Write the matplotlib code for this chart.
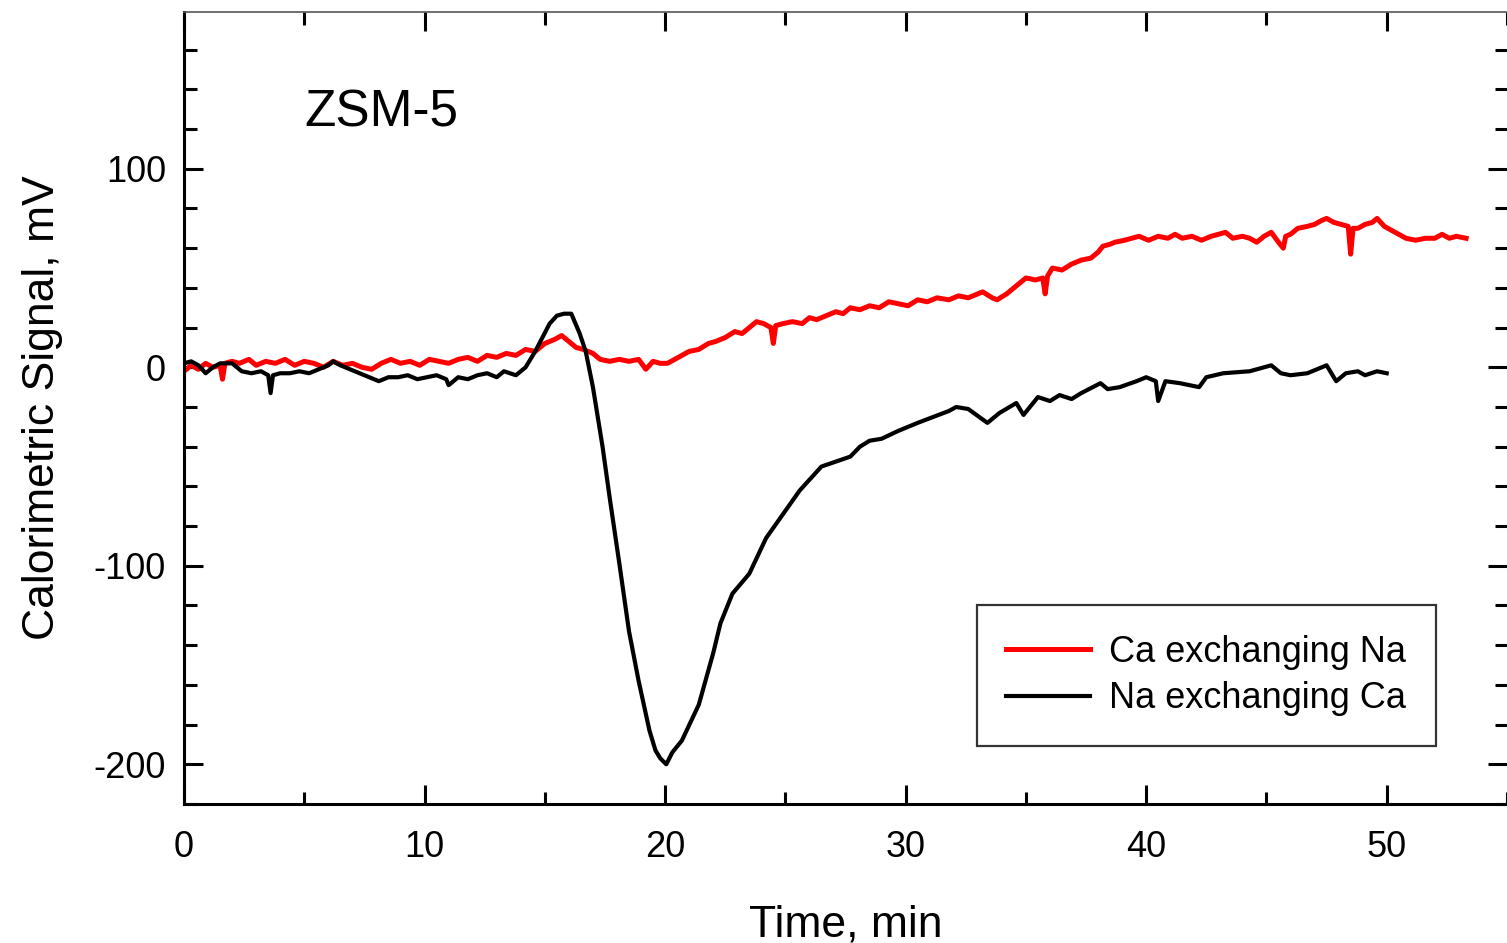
import matplotlib
matplotlib.use('Agg')
import matplotlib.pyplot as plt
from matplotlib.ticker import MultipleLocator

plt.rcParams['font.family'] = ['Liberation Sans', 'DejaVu Sans']
plt.rcParams['axes.unicode_minus'] = False

# Ca exchanging Na (red trace)
red_t = [0.0, 0.3, 0.6, 0.9, 1.2, 1.5, 1.6, 1.7, 2.0, 2.3, 2.7, 3.0, 3.4, 3.8, 4.2, 4.6,
         5.0, 5.4, 5.8, 6.2, 6.6, 7.0, 7.4, 7.8, 8.2, 8.6, 9.0, 9.4, 9.8, 10.2, 10.6,
         11.0, 11.4, 11.8, 12.2, 12.6, 13.0, 13.4, 13.8, 14.2, 14.6, 15.0, 15.4, 15.7,
         16.0, 16.3, 16.6, 17.0, 17.3, 17.7, 18.1, 18.5, 18.9, 19.2, 19.5, 19.8, 20.1,
         20.4, 20.7, 21.0, 21.4, 21.8, 22.1, 22.5, 22.9, 23.2, 23.5, 23.8, 24.1, 24.4,
         24.5, 24.6, 24.9, 25.3, 25.7, 26.0, 26.3, 26.7, 27.1, 27.4, 27.7, 28.1, 28.5,
         28.9, 29.3, 29.7, 30.1, 30.5, 30.9, 31.3, 31.8, 32.2, 32.6, 33.0, 33.2, 33.6,
         33.8, 34.2, 34.6, 35.0, 35.4, 35.7, 35.8, 35.9, 36.1, 36.5, 36.9, 37.3, 37.7,
         38.0, 38.2, 38.5, 38.7, 39.1, 39.4, 39.7, 40.1, 40.5, 40.9, 41.2, 41.5, 41.9,
         42.3, 42.7, 43.0, 43.3, 43.6, 44.0, 44.3, 44.6, 44.9, 45.2, 45.5, 45.7, 45.8,
         46.0, 46.3, 46.7, 47.0, 47.3, 47.5, 47.8, 48.1, 48.4, 48.5, 48.6, 48.8, 49.1,
         49.4, 49.6, 49.9, 50.2, 50.5, 50.8, 51.2, 51.6, 52.0, 52.3, 52.6, 52.9, 53.3]
red_mv = [-2, 1, -1, 2, 0, 1, -6, 2, 3, 2, 4, 1, 3, 2, 4, 1,
          3, 2, 0, 3, 1, 2, 0, -1, 2, 4, 2, 3, 1, 4, 3,
          2, 4, 5, 3, 6, 5, 7, 6, 9, 8, 12, 14, 16,
          13, 10, 9, 7, 4, 3, 4, 3, 4, -1, 3, 2, 2,
          4, 6, 8, 9, 12, 13, 15, 18, 17, 20, 23, 22, 20,
          12, 21, 22, 23, 22, 25, 24, 26, 28, 27, 30, 29, 31,
          30, 33, 32, 31, 34, 33, 35, 34, 36, 35, 37, 38, 35,
          34, 37, 41, 45, 44, 45, 37, 46, 50, 49, 52, 54, 55,
          58, 61, 62, 63, 64, 65, 66, 64, 66, 65, 67, 65, 66,
          64, 66, 67, 68, 65, 66, 65, 63, 66, 68, 63, 60, 66,
          67, 70, 71, 72, 74, 75, 73, 72, 71, 57, 70, 70, 72,
          73, 75, 71, 69, 67, 65, 64, 65, 65, 67, 65, 66, 65]

# Na exchanging Ca (black trace)
blk_t = [0.0, 0.3, 0.6, 0.9, 1.2, 1.5, 2.0, 2.4, 2.8, 3.2, 3.5, 3.6, 3.7, 4.0, 4.4, 4.8,
         5.2, 5.6, 6.0, 6.2, 6.5, 6.9, 7.3, 7.7, 8.1, 8.5, 8.9, 9.3, 9.7, 10.1, 10.5,
         10.9, 11.0, 11.4, 11.8, 12.2, 12.6, 13.0, 13.3, 13.8, 14.2, 14.6, 15.2, 15.5,
         15.8, 16.1, 16.45, 16.7, 17.0, 17.4, 17.7, 18.1, 18.5, 18.9, 19.35, 19.6, 19.8,
         20.05, 20.3, 20.7, 21.4, 22.0, 22.3, 22.8, 23.5, 24.2, 24.9,
         25.6, 26.5, 27.7, 28.1, 28.5, 29.0, 29.7, 30.5, 31.8, 32.1, 32.6, 33.4, 33.9,
         34.6, 34.9, 35.5, 36.0, 36.4, 36.9, 37.3, 38.1, 38.4, 38.9, 39.6, 40.0, 40.4,
         40.5, 40.8, 41.4, 42.2, 42.5, 43.2, 44.3, 45.2, 45.6, 46.0, 46.7, 47.1, 47.5,
         47.9, 48.3, 48.8, 49.1, 49.6, 50.0]
blk_mv = [2, 3, 1, -3, 0, 2, 2, -2, -3, -2, -4, -13, -4, -3, -3, -2,
          -3, -1, 1, 3, 1, -1, -3, -5, -7, -5, -5, -4, -6, -5, -4,
          -6, -9, -5, -6, -4, -3, -5, -2, -4, 0, 8, 22, 26,
          27, 27, 17, 8, -10, -40, -66, -99, -133, -158, -183, -193, -197,
          -200, -194, -188, -170, -144, -129, -114, -104, -86, -74,
          -62, -50, -45, -40, -37, -36, -32, -28, -22, -20, -21, -28, -23,
          -18, -24, -15, -17, -14, -16, -13, -8, -11, -10, -7, -5, -7,
          -17, -7, -8, -10, -5, -3, -2, 1, -3, -4, -3, -1, 1,
          -7, -3, -2, -4, -2, -3]

fig = plt.figure(figsize=(15.07, 9.43), dpi=100)
ax = fig.add_axes([0.1221, 0.1474, 0.8779, 0.8399])

ax.plot(red_t, red_mv, color='#ff0000', linewidth=3.6, label='Ca exchanging Na')
ax.plot(blk_t, blk_mv, color='black', linewidth=3.0, label='Na exchanging Ca')

ax.set_xlim(0, 55)
ax.set_ylim(-220, 179)

ax.xaxis.set_major_locator(MultipleLocator(10))
ax.xaxis.set_minor_locator(MultipleLocator(5))
ax.yaxis.set_major_locator(MultipleLocator(100))
ax.yaxis.set_minor_locator(MultipleLocator(20))
ax.set_xticks([0, 10, 20, 30, 40, 50])

ax.tick_params(which='both', direction='in', top=True, right=True, width=2.2, colors='black')
ax.tick_params(which='major', length=14, labelsize=26)
ax.tick_params(which='minor', length=9)
ax.tick_params(axis='x', which='major', pad=19)
ax.tick_params(axis='y', which='major', pad=13)

ax.spines['left'].set_linewidth(2.2)
ax.spines['bottom'].set_linewidth(2.2)
ax.spines['top'].set_linewidth(1.2)
ax.spines['top'].set_color('#555555')
ax.spines['right'].set_visible(False)

ax.set_xlabel('Time, min', fontsize=32, labelpad=28)
ax.set_ylabel('Calorimetric Signal, mV', fontsize=32, labelpad=22)

ax.text(5.0, 128, 'ZSM-5', fontsize=37, ha='left', va='center')

leg = ax.legend(loc='lower left', bbox_to_anchor=(0.5993, 0.0731, 0.3467, 0.1768),
                mode='expand', fontsize=26, frameon=True, fancybox=False,
                handlelength=2.3, handletextpad=0.55, borderaxespad=0,
                labelspacing=0.33, borderpad=0.82)
leg.get_frame().set_edgecolor('black')
leg.get_frame().set_linewidth(1.6)

fig.savefig('out.png', dpi=100)
